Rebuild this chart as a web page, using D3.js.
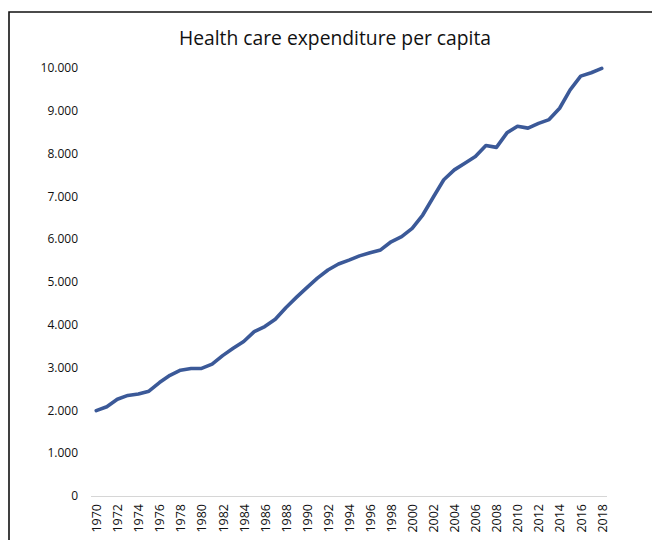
<!DOCTYPE html>
<html>
<head>
<meta charset="utf-8">
<script src="https://cdn.jsdelivr.net/npm/d3@7/dist/d3.min.js"></script>
<style>
  html, body { margin: 0; padding: 0; background: #fff; }
  svg { display: block; }
</style>
</head>
<body>
<svg id="chart" width="652" height="540"></svg>
<script>
// Health care expenditure per capita, 1970–2018
const years = d3.range(1970, 2019);
const spending = [
  1995, 2085, 2260, 2350, 2385, 2450, 2650, 2820, 2940, 2980,
  2980, 3080, 3280, 3450, 3610, 3840, 3960, 4130, 4400, 4640,
  4870, 5090, 5280, 5420, 5510, 5610, 5685, 5750, 5940, 6060,
  6255, 6565, 6980, 7390, 7620, 7775, 7930, 8190, 8145, 8485,
  8640, 8595, 8705, 8795, 9060, 9490, 9810, 9890, 9990
];
const yTicks = [0, 1000, 2000, 3000, 4000, 5000, 6000, 7000, 8000, 9000, 10000];
const xTickYears = years.filter(y => (y - 1970) % 2 === 0);
const title = "Health care expenditure per capita";

const svg = d3.select("#chart");

// outer frame
svg.append("path")
  .attr("d", "M9,540 V12 H652")
  .attr("fill", "none")
  .attr("stroke", "#111")
  .attr("stroke-width", 1.6);

const x = d3.scalePoint().domain(years).range([91, 607]).padding(0.5);
const y = d3.scaleLinear().domain([0, 10000]).range([496, 68]);

// title
svg.append("text")
  .attr("x", 335)
  .attr("y", 45)
  .attr("text-anchor", "middle")
  .attr("font-family", "'Open Sans', sans-serif")
  .attr("font-size", 19.3)
  .attr("fill", "#111")
  .text(title);

// y axis labels (dot as thousands separator)
const fmt = d3.formatLocale({ decimal: ",", thousands: ".", grouping: [3], currency: ["", ""] }).format(",");
svg.append("g")
  .selectAll("text")
  .data(yTicks)
  .join("text")
  .attr("x", 78)
  .attr("y", d => y(d))
  .attr("dy", "0.35em")
  .attr("text-anchor", "end")
  .attr("font-family", "'Open Sans', sans-serif")
  .attr("font-size", 12)
  .attr("fill", "#111")
  .text(d => fmt(d));

// x axis
const xAxis = d3.axisBottom(x).tickValues(xTickYears).tickSize(0).tickPadding(0);
const gx = svg.append("g").attr("transform", `translate(0,${y(0)})`).call(xAxis);
gx.select(".domain").attr("stroke", "#d6d6d6").attr("stroke-width", 1.2)
  .attr("d", `M91,0.5H607`);
gx.selectAll(".tick text")
  .attr("font-family", "'Open Sans', sans-serif")
  .attr("font-size", 12.5)
  .attr("fill", "#111")
  .attr("text-anchor", "end")
  .attr("transform", "rotate(-90)")
  .attr("x", -8)
  .attr("y", 0)
  .attr("dy", "0.35em");

// line
const line = d3.line()
  .x((d, i) => x(years[i]))
  .y(d => y(d));

svg.append("path")
  .datum(spending)
  .attr("d", line)
  .attr("fill", "none")
  .attr("stroke", "#3b5998")
  .attr("stroke-width", 3.6)
  .attr("stroke-linejoin", "round")
  .attr("stroke-linecap", "round");
</script>
</body>
</html>
